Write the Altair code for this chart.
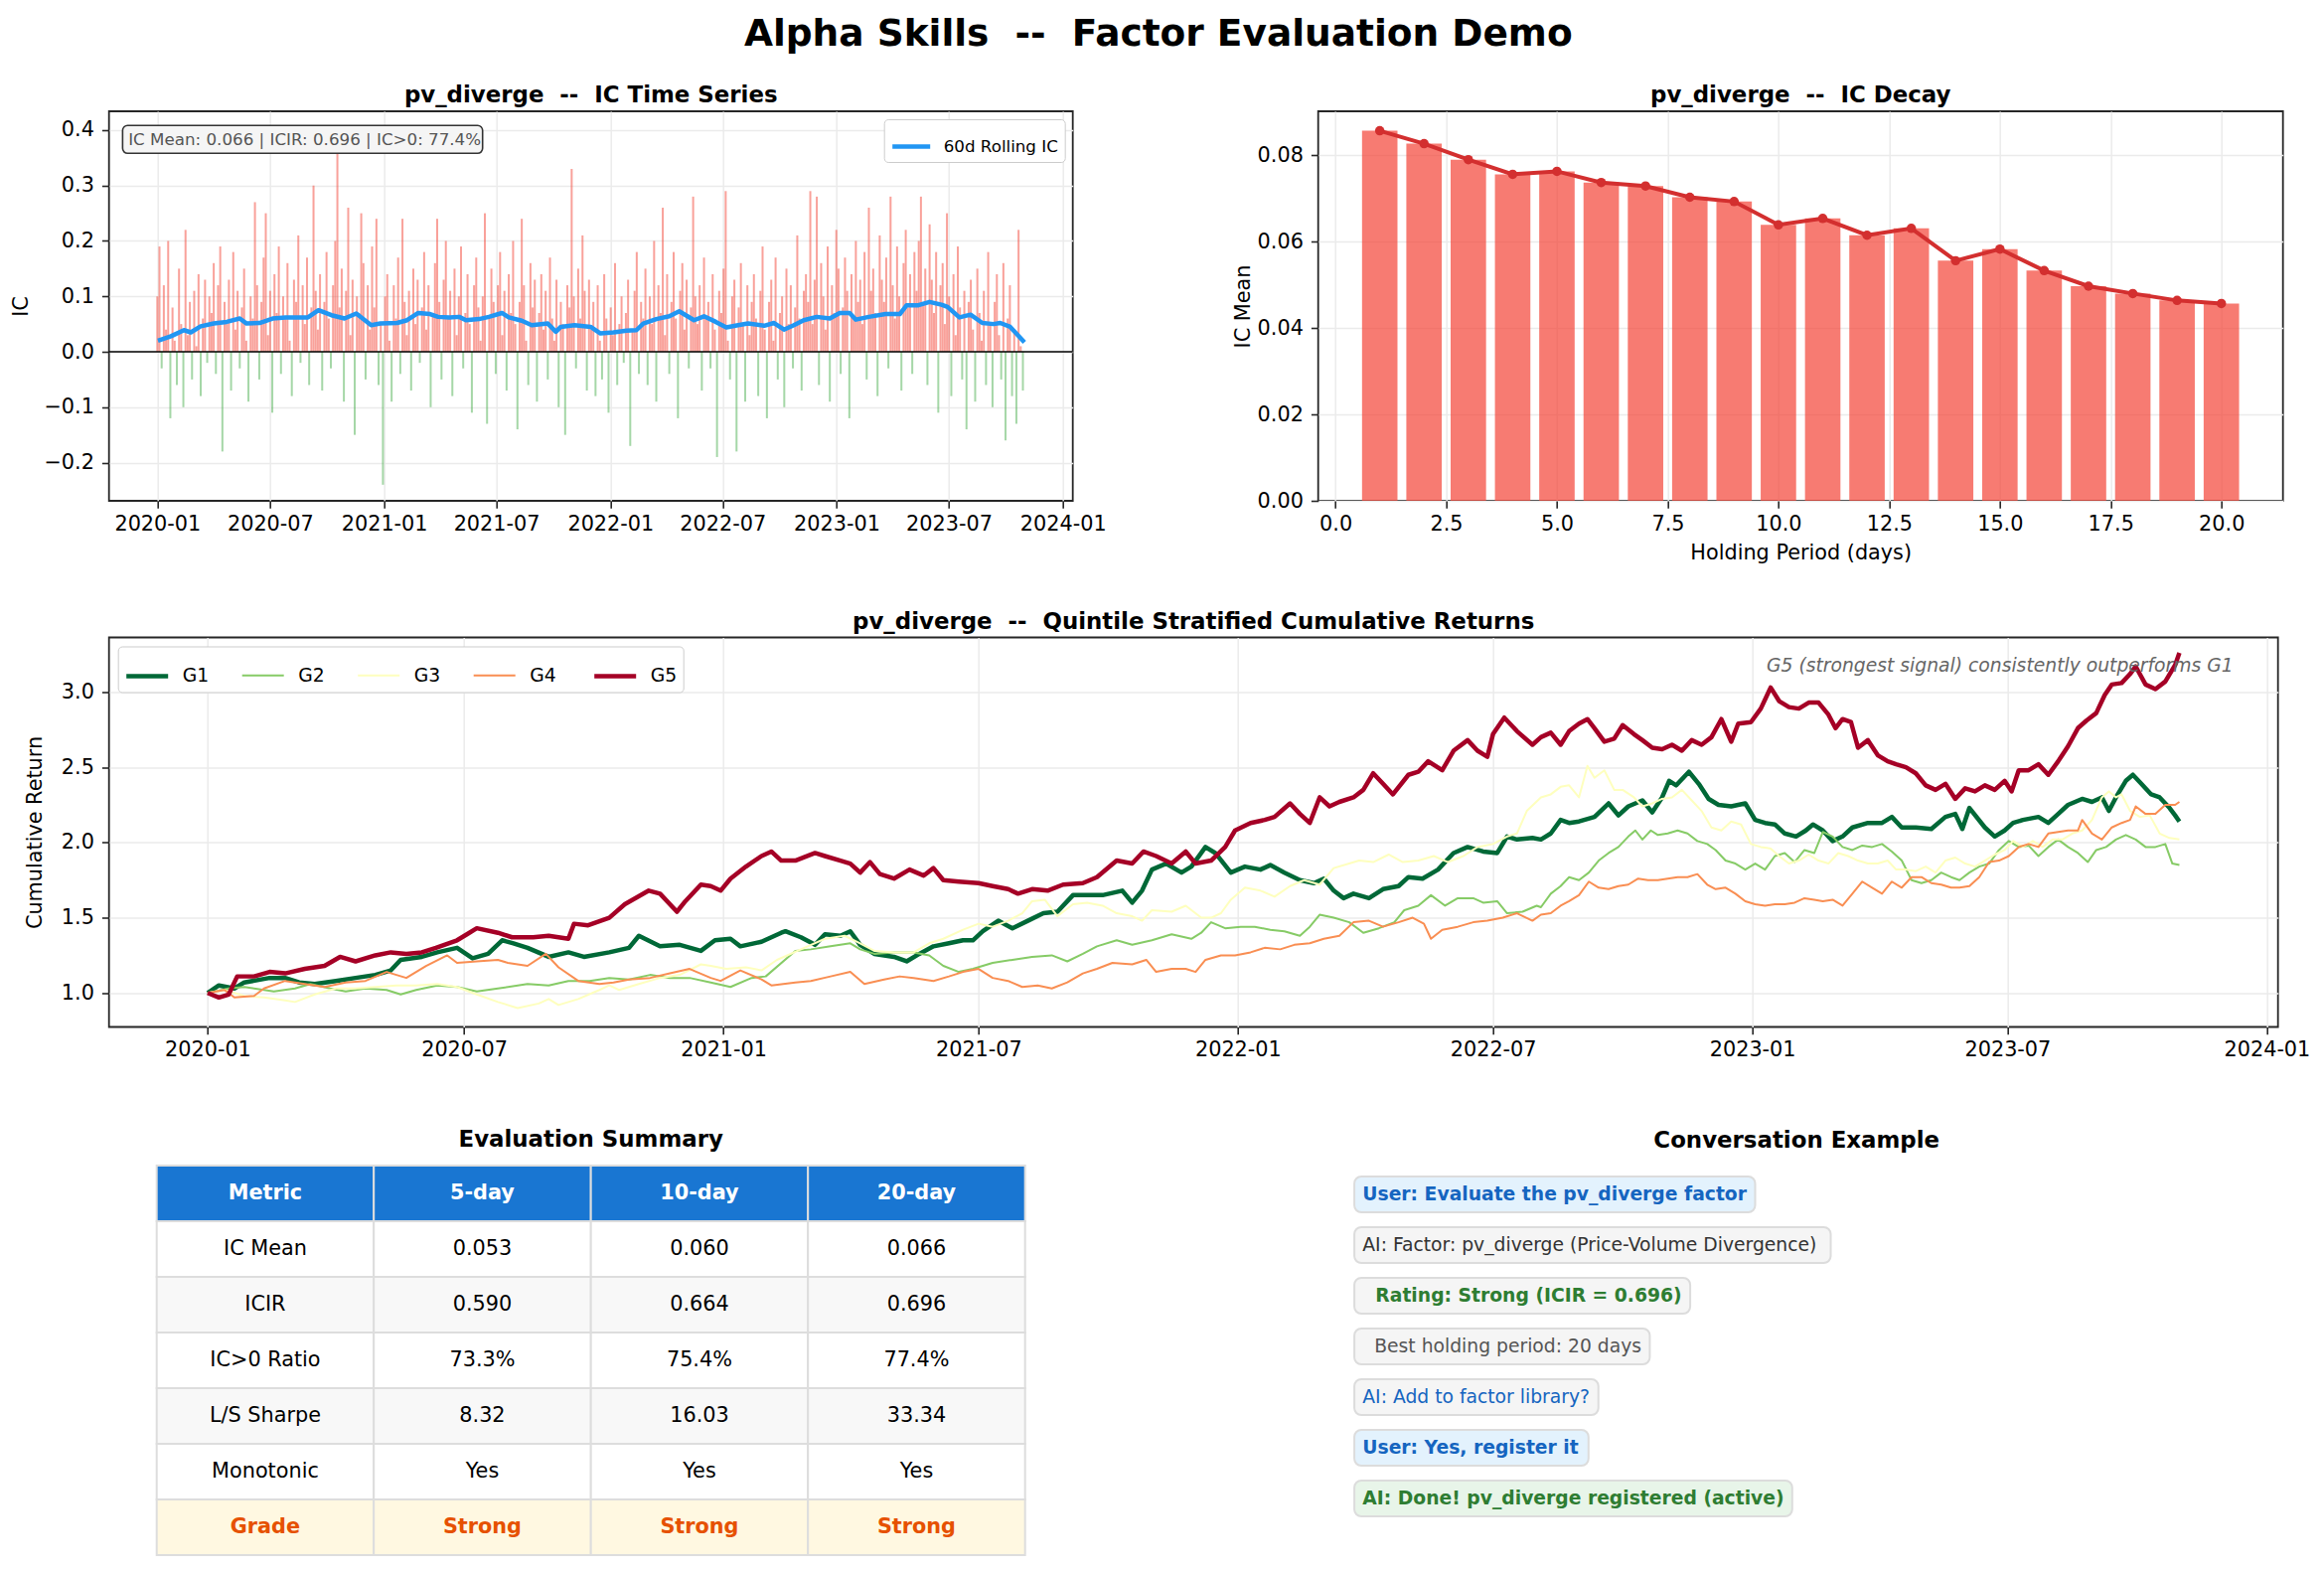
import altair as alt
import pandas as pd

FONT = "DejaVu Sans"
INK = "#262626"
GRID = "#ebebeb"
START = pd.Timestamp("2020-01-01")

# ---------------- daily IC (one value every 3.5 calendar days) ----------------
IC_STEP_DAYS = 3.5
DAILY_IC = [
    0.10, 0.19, -0.03, 0.12, 0.04, 0.20, -0.12, 0.08, 0.02, -0.06, 0.15, 0.05, -0.10, 0.22, 0.03, 0.09, -0.05, 0.11, 0.01, 0.14, -0.08, 0.06, 0.13, -0.02, 0.10,
    0.07, 0.16, -0.04, 0.12, 0.19, -0.18, 0.09, 0.05, 0.13, -0.07, 0.18, 0.04, 0.11, -0.03, 0.08, 0.15, 0.02, -0.09, 0.10, 0.06, 0.27, 0.12, -0.05, 0.09, 0.17,
    0.25, 0.03, 0.11, -0.11, 0.14, 0.07, 0.19, -0.04, 0.10, 0.06, 0.16, 0.02, -0.08, 0.13, 0.09, 0.21, -0.02, 0.12, 0.05, 0.17, -0.06, 0.08, 0.30, 0.11, 0.04,
    0.14, -0.07, 0.09, 0.18, 0.06, -0.03, 0.12, 0.20, 0.36, 0.08, 0.15, -0.09, 0.11, 0.26, 0.03, 0.13, -0.15, 0.10, 0.07, 0.25, 0.16, -0.05, 0.12, 0.04, 0.19,
    0.08, 0.24, -0.06, 0.05, -0.24, 0.10, 0.14, 0.02, -0.09, 0.12, 0.06, 0.17, -0.04, 0.24, 0.09, 0.03, 0.11, -0.07, 0.15, 0.05, 0.13, -0.02, 0.08, 0.18, 0.04,
    0.12, -0.10, 0.07, 0.16, 0.24, 0.09, -0.05, 0.13, 0.20, 0.06, 0.11, -0.08, 0.15, 0.03, 0.10, 0.19, -0.03, 0.07, 0.14, 0.05, -0.11, 0.12, 0.17, 0.08, 0.02,
    0.10, 0.25, -0.13, 0.06, 0.15, 0.09, -0.04, 0.12, 0.18, 0.03, 0.11, -0.07, 0.14, 0.07, 0.20, 0.05, -0.14, 0.09, 0.24, 0.12, 0.02, -0.06, 0.16, 0.08, 0.13,
    -0.09, 0.07, 0.14, 0.04, 0.11, -0.05, 0.17, 0.06, 0.02, 0.13, -0.10, 0.09, 0.05, -0.15, 0.12, 0.08, 0.33, 0.10, -0.03, 0.15, 0.06, 0.21, 0.11, -0.07, 0.13,
    0.04, 0.09, -0.08, 0.12, 0.02, -0.05, 0.14, 0.06, -0.11, 0.08, 0.03, 0.16, -0.06, 0.05, 0.10, -0.02, 0.07, 0.13, -0.17, 0.04, 0.11, 0.18, -0.04, 0.09, 0.06,
    0.15, -0.06, 0.10, 0.05, 0.20, -0.09, 0.12, 0.07, 0.26, 0.03, 0.14, -0.04, 0.09, 0.18, 0.06, -0.12, 0.11, 0.16, 0.04, 0.13, -0.03, 0.08, 0.28, 0.10, 0.05,
    0.12, -0.07, 0.17, 0.06, 0.09, -0.03, 0.14, 0.04, -0.19, 0.11, 0.07, 0.15, 0.29, 0.02, -0.05, 0.10, 0.13, -0.18, 0.08, 0.16, 0.05, -0.09, 0.12, 0.03, 0.09,
    0.14, 0.06, -0.08, 0.11, 0.19, 0.04, -0.12, 0.09, 0.13, 0.02, 0.17, -0.05, 0.07, 0.10, -0.10, 0.15, 0.05, 0.12, -0.03, 0.08, 0.21, 0.06, -0.07, 0.11, 0.14,
    0.09, 0.29, 0.05, 0.13, 0.28, -0.06, 0.16, 0.10, 0.04, 0.19, -0.09, 0.12, 0.07, 0.22, 0.15, -0.04, 0.08, 0.17, 0.11, -0.12, 0.14, 0.06, 0.20, 0.09, 0.13,
    0.05, 0.18, -0.05, 0.26, 0.11, 0.15, 0.07, -0.08, 0.21, 0.13, 0.09, 0.17, -0.03, 0.28, 0.12, 0.06, 0.19, 0.10, -0.07, 0.16, 0.22, 0.08, 0.14, -0.04, 0.18,
    0.11, 0.20, 0.28, 0.09, 0.15, -0.06, 0.23, 0.13, 0.07, 0.18, -0.11, 0.12, 0.16, 0.05, 0.25, 0.10, -0.08, 0.14, 0.03, 0.19, 0.08, -0.05, 0.11, -0.14, 0.09,
    0.13, 0.04, -0.09, 0.15, 0.07, 0.02, 0.11, -0.06, 0.18, 0.05, -0.10, 0.09, 0.14, 0.03, -0.05, 0.16, -0.16, 0.06, 0.12, -0.08, 0.04, -0.13, 0.22, 0.01, -0.07,
]

# 60-day rolling IC (days since 2020-01-01, value)
ROLL_DAYS = [1, 22, 43, 54, 70, 91, 112, 133, 144, 165, 186, 207, 228, 243, 260, 281, 302, 321, 345, 360,
             387, 403, 421, 440, 453, 471, 487, 498, 519, 535, 556, 567, 588, 604, 630, 643, 651, 673, 699, 715,
             736, 757, 773, 784, 805, 826, 842, 866, 882, 901, 918, 937, 953, 979, 995, 1011, 1027, 1043, 1064, 1085,
             1101, 1117, 1127, 1148, 1175, 1198, 1209, 1228, 1246, 1265, 1275, 1294, 1312, 1331, 1349, 1360, 1376, 1399]
ROLL_IC = [0.020, 0.028, 0.039, 0.035, 0.046, 0.051, 0.054, 0.060, 0.051, 0.052, 0.060, 0.062, 0.062, 0.062, 0.075, 0.066, 0.060, 0.069, 0.048, 0.051,
           0.052, 0.057, 0.070, 0.068, 0.063, 0.062, 0.063, 0.057, 0.059, 0.063, 0.070, 0.062, 0.056, 0.048, 0.051, 0.036, 0.045, 0.048, 0.045, 0.033,
           0.035, 0.038, 0.039, 0.051, 0.059, 0.064, 0.073, 0.057, 0.064, 0.054, 0.044, 0.048, 0.051, 0.047, 0.052, 0.040, 0.048, 0.057, 0.063, 0.060,
           0.070, 0.070, 0.058, 0.063, 0.068, 0.068, 0.084, 0.084, 0.090, 0.085, 0.081, 0.062, 0.067, 0.052, 0.050, 0.052, 0.045, 0.017]

# ---------------- IC decay ----------------
HOLDING_DAYS = list(range(1, 21))
DECAY_IC = [0.0857, 0.0827, 0.0790, 0.0756, 0.0763, 0.0737, 0.0729, 0.0703, 0.0693, 0.0639,
            0.0654, 0.0615, 0.0631, 0.0556, 0.0583, 0.0533, 0.0497, 0.0480, 0.0464, 0.0457]

# ---------------- quintile cumulative returns ----------------
GROUPS = ["G1", "G2", "G3", "G4", "G5"]
GROUP_COLORS = ["#006837", "#86cb66", "#feffbe", "#f98e52", "#a50026"]
GROUP_WIDTHS = [4.5, 2.0, 2.0, 2.0, 4.5]

G1_DAYS = [0, 8, 19, 26, 44, 55, 65, 76, 91, 105, 119, 130, 137, 152, 163, 177, 188, 199, 209, 217,
           227, 242, 256, 267, 285, 299, 306, 321, 335, 350, 360, 371, 378, 393, 407, 410, 421, 431, 438, 449,
           456, 463, 473, 487, 496, 505, 515, 526, 536, 543, 550, 561, 571, 582, 593, 603, 614, 624, 635, 649,
           656, 663, 670, 680, 691, 698, 708, 715, 726, 736, 747, 754, 764, 775, 785, 792, 799, 806, 813, 824,
           834, 845, 852, 862, 873, 884, 894, 905, 915, 922, 929, 940, 946, 953, 960, 966, 973, 984, 994, 1001,
           1008, 1018, 1025, 1032, 1037, 1042, 1051, 1058, 1065, 1072, 1081, 1091, 1098, 1105, 1112, 1119, 1127, 1134, 1139, 1146,
           1153, 1160, 1167, 1178, 1188, 1195, 1202, 1212, 1223, 1233, 1240, 1245, 1250, 1261, 1268, 1275, 1281, 1288, 1299, 1306,
           1313, 1320, 1330, 1337, 1344, 1349, 1354, 1361, 1366, 1371, 1379, 1385, 1392, 1396, 1399]
G1_RET = [1.00, 1.05, 1.03, 1.07, 1.10, 1.10, 1.07, 1.06, 1.08, 1.10, 1.12, 1.15, 1.22, 1.24, 1.27, 1.30, 1.23, 1.26, 1.35, 1.33,
          1.30, 1.24, 1.27, 1.24, 1.27, 1.30, 1.38, 1.31, 1.32, 1.28, 1.35, 1.36, 1.31, 1.34, 1.40, 1.41, 1.37, 1.32, 1.39, 1.38,
          1.41, 1.32, 1.26, 1.24, 1.21, 1.26, 1.31, 1.33, 1.35, 1.35, 1.41, 1.48, 1.43, 1.48, 1.53, 1.54, 1.65, 1.65, 1.65, 1.68,
          1.60, 1.68, 1.82, 1.86, 1.80, 1.84, 1.97, 1.93, 1.80, 1.84, 1.82, 1.85, 1.80, 1.75, 1.73, 1.76, 1.68, 1.63, 1.66, 1.63,
          1.69, 1.71, 1.77, 1.76, 1.82, 1.93, 1.97, 1.94, 1.93, 2.04, 2.02, 2.03, 2.02, 2.06, 2.15, 2.13, 2.14, 2.17, 2.26, 2.18,
          2.24, 2.28, 2.20, 2.30, 2.41, 2.38, 2.47, 2.39, 2.29, 2.25, 2.24, 2.26, 2.15, 2.13, 2.12, 2.06, 2.04, 2.08, 2.12, 2.08,
          2.01, 2.04, 2.10, 2.13, 2.13, 2.17, 2.10, 2.10, 2.09, 2.17, 2.19, 2.09, 2.23, 2.10, 2.04, 2.08, 2.13, 2.15, 2.17, 2.13,
          2.19, 2.25, 2.29, 2.27, 2.30, 2.21, 2.30, 2.41, 2.45, 2.40, 2.32, 2.30, 2.23, 2.18, 2.14]

G2_DAYS = [0, 15, 26, 47, 62, 73, 87, 98, 112, 127, 137, 148, 163, 177, 191, 206, 227, 242, 256, 271,
           285, 299, 314, 328, 342, 357, 371, 386, 396, 417, 428, 442, 456, 463, 473, 487, 501, 512, 522, 533,
           543, 557, 571, 585, 599, 610, 621, 631, 645, 656, 670, 684, 698, 705, 712, 722, 733, 743, 754, 764,
           775, 782, 789, 799, 810, 820, 831, 842, 849, 859, 868, 878, 887, 898, 905, 915, 922, 933, 943, 946,
           953, 960, 966, 973, 980, 987, 994, 1001, 1008, 1013, 1018, 1024, 1029, 1036, 1043, 1050, 1057, 1064, 1070, 1077,
           1084, 1091, 1098, 1105, 1112, 1119, 1126, 1133, 1140, 1146, 1153, 1160, 1167, 1174, 1181, 1188, 1195, 1202, 1209, 1216,
           1223, 1230, 1237, 1243, 1250, 1257, 1264, 1271, 1278, 1285, 1292, 1299, 1306, 1313, 1320, 1327, 1334, 1340, 1347, 1354,
           1361, 1368, 1375, 1382, 1389, 1394, 1399]
G2_RET = [1.00, 1.03, 1.04, 1.01, 1.03, 1.06, 1.03, 1.01, 1.03, 1.02, 0.99, 1.02, 1.05, 1.04, 1.01, 1.03, 1.06, 1.05, 1.08, 1.08,
          1.10, 1.09, 1.12, 1.10, 1.10, 1.07, 1.04, 1.10, 1.11, 1.28, 1.29, 1.31, 1.33, 1.29, 1.26, 1.27, 1.27, 1.25, 1.18, 1.14,
          1.16, 1.20, 1.22, 1.24, 1.25, 1.21, 1.26, 1.31, 1.35, 1.32, 1.35, 1.39, 1.36, 1.40, 1.47, 1.43, 1.44, 1.44, 1.42, 1.41,
          1.38, 1.44, 1.52, 1.50, 1.47, 1.40, 1.43, 1.47, 1.55, 1.58, 1.65, 1.58, 1.63, 1.63, 1.60, 1.61, 1.53, 1.54, 1.58, 1.57,
          1.66, 1.71, 1.77, 1.75, 1.80, 1.88, 1.93, 1.97, 2.04, 2.08, 2.02, 2.08, 2.05, 2.06, 2.08, 2.06, 2.01, 1.99, 1.95, 1.88,
          1.86, 1.82, 1.86, 1.82, 1.91, 1.93, 1.87, 1.95, 1.93, 2.07, 2.04, 1.97, 1.95, 1.98, 1.97, 1.99, 1.94, 1.88, 1.75, 1.73,
          1.75, 1.80, 1.77, 1.75, 1.80, 1.84, 1.86, 1.95, 2.01, 1.97, 1.98, 1.91, 1.97, 2.02, 1.97, 1.93, 1.87, 1.95, 1.97, 2.02,
          2.05, 2.02, 1.97, 1.97, 1.99, 1.86, 1.85]

G3_DAYS = [0, 12, 26, 40, 55, 62, 76, 91, 105, 119, 134, 148, 163, 177, 191, 206, 220, 235, 242, 249,
           263, 278, 285, 292, 306, 321, 335, 350, 357, 368, 382, 393, 404, 421, 438, 452, 463, 473, 487, 501,
           512, 522, 536, 547, 557, 568, 578, 585, 594, 603, 614, 624, 635, 645, 656, 663, 670, 684, 694, 705,
           712, 719, 726, 736, 747, 757, 768, 778, 789, 799, 810, 817, 827, 838, 848, 859, 870, 880, 891, 901,
           912, 922, 929, 936, 946, 953, 960, 966, 973, 979, 984, 991, 998, 1004, 1012, 1018, 1025, 1032, 1039, 1046,
           1053, 1060, 1067, 1074, 1081, 1088, 1095, 1102, 1109, 1115, 1122, 1129, 1136, 1143, 1150, 1157, 1164, 1171, 1178, 1185,
           1192, 1198, 1205, 1212, 1219, 1226, 1233, 1240, 1247, 1254, 1261, 1268, 1275, 1281, 1288, 1295, 1302, 1309, 1316, 1323,
           1330, 1337, 1344, 1349, 1354, 1358, 1364, 1371, 1378, 1385, 1392, 1399]
G3_RET = [1.00, 1.02, 0.98, 0.97, 0.95, 0.94, 0.99, 1.03, 1.03, 1.04, 1.05, 1.05, 1.06, 1.04, 0.99, 0.94, 0.90, 0.93, 0.96, 0.92,
          0.96, 1.02, 1.05, 1.02, 1.06, 1.10, 1.12, 1.19, 1.18, 1.16, 1.17, 1.15, 1.22, 1.29, 1.36, 1.38, 1.33, 1.28, 1.27, 1.27,
          1.33, 1.36, 1.42, 1.46, 1.44, 1.48, 1.53, 1.61, 1.62, 1.51, 1.59, 1.60, 1.58, 1.53, 1.51, 1.48, 1.55, 1.54, 1.58, 1.50,
          1.50, 1.53, 1.62, 1.70, 1.68, 1.64, 1.71, 1.75, 1.72, 1.83, 1.86, 1.88, 1.87, 1.92, 1.87, 1.88, 1.91, 1.87, 1.91, 1.97,
          1.99, 2.04, 2.06, 2.21, 2.30, 2.32, 2.37, 2.38, 2.30, 2.51, 2.43, 2.48, 2.35, 2.35, 2.30, 2.24, 2.26, 2.29, 2.30, 2.35,
          2.28, 2.21, 2.10, 2.08, 2.14, 2.12, 1.99, 1.97, 1.96, 1.91, 1.86, 1.88, 1.92, 1.88, 1.86, 1.93, 1.91, 1.88, 1.86, 1.86,
          1.88, 1.82, 1.82, 1.81, 1.84, 1.80, 1.88, 1.90, 1.86, 1.84, 1.88, 1.92, 1.95, 2.01, 1.97, 2.01, 1.97, 2.02, 2.02, 2.06,
          2.08, 2.15, 2.30, 2.34, 2.30, 2.32, 2.21, 2.17, 2.18, 2.06, 2.03, 2.02]

G4_DAYS = [0, 12, 19, 33, 40, 55, 69, 83, 98, 112, 127, 141, 155, 170, 177, 191, 206, 213, 227, 240,
           249, 263, 278, 288, 299, 314, 328, 342, 357, 364, 378, 393, 400, 417, 428, 442, 456, 466, 480, 491,
           501, 515, 526, 536, 547, 557, 568, 578, 589, 599, 610, 621, 631, 642, 656, 666, 673, 684, 694, 701,
           708, 719, 729, 740, 750, 761, 771, 782, 792, 803, 813, 824, 834, 845, 855, 863, 868, 876, 887, 898,
           908, 919, 929, 940, 946, 953, 960, 966, 973, 980, 987, 994, 1001, 1008, 1015, 1022, 1029, 1036, 1043, 1050,
           1057, 1064, 1070, 1077, 1084, 1091, 1098, 1105, 1112, 1119, 1126, 1133, 1140, 1146, 1153, 1160, 1167, 1174, 1181, 1188,
           1195, 1202, 1209, 1216, 1223, 1230, 1237, 1243, 1250, 1257, 1264, 1271, 1278, 1285, 1292, 1299, 1306, 1313, 1320, 1327,
           1330, 1337, 1344, 1351, 1358, 1364, 1368, 1375, 1382, 1389, 1396, 1399]
G4_RET = [1.00, 1.02, 0.97, 0.98, 1.03, 1.08, 1.06, 1.04, 1.07, 1.08, 1.14, 1.10, 1.18, 1.25, 1.20, 1.21, 1.22, 1.20, 1.18, 1.26,
          1.17, 1.08, 1.06, 1.07, 1.09, 1.10, 1.13, 1.16, 1.10, 1.08, 1.15, 1.09, 1.05, 1.07, 1.08, 1.11, 1.14, 1.06, 1.09, 1.11,
          1.10, 1.08, 1.11, 1.14, 1.16, 1.10, 1.08, 1.04, 1.05, 1.03, 1.07, 1.13, 1.16, 1.20, 1.19, 1.22, 1.14, 1.16, 1.16, 1.14,
          1.22, 1.25, 1.25, 1.27, 1.30, 1.29, 1.32, 1.33, 1.36, 1.38, 1.47, 1.48, 1.44, 1.47, 1.50, 1.46, 1.36, 1.42, 1.44, 1.47,
          1.48, 1.50, 1.53, 1.48, 1.52, 1.53, 1.58, 1.61, 1.65, 1.74, 1.70, 1.69, 1.71, 1.72, 1.76, 1.75, 1.75, 1.76, 1.77, 1.77,
          1.79, 1.72, 1.69, 1.70, 1.66, 1.61, 1.59, 1.58, 1.59, 1.59, 1.60, 1.63, 1.62, 1.61, 1.62, 1.58, 1.66, 1.74, 1.70, 1.66,
          1.74, 1.70, 1.77, 1.77, 1.73, 1.72, 1.70, 1.70, 1.71, 1.77, 1.87, 1.88, 1.91, 1.97, 1.99, 1.97, 2.06, 2.07, 2.08, 2.08,
          2.15, 2.06, 2.02, 2.10, 2.13, 2.15, 2.24, 2.19, 2.19, 2.25, 2.25, 2.27]

G5_DAYS = [0, 8, 15, 21, 33, 44, 55, 69, 83, 94, 105, 119, 130, 141, 152, 162, 177, 184, 191, 206,
           216, 231, 242, 256, 260, 270, 285, 296, 313, 321, 333, 339, 350, 357, 364, 371, 382, 393, 400, 407,
           417, 431, 438, 449, 456, 463, 470, 477, 487, 498, 508, 515, 522, 533, 547, 557, 568, 575, 585, 596,
           607, 621, 631, 645, 656, 664, 673, 684, 694, 701, 712, 722, 729, 740, 750, 757, 768, 775, 782, 789,
           796, 803, 813, 820, 827, 834, 841, 852, 859, 866, 876, 884, 894, 901, 908, 912, 920, 929, 940, 946,
           953, 960, 966, 973, 979, 984, 991, 998, 1004, 1012, 1018, 1025, 1032, 1039, 1046, 1053, 1060, 1067, 1074, 1081,
           1086, 1095, 1102, 1109, 1115, 1122, 1129, 1136, 1143, 1150, 1155, 1160, 1166, 1171, 1178, 1185, 1192, 1198, 1205, 1212,
           1219, 1226, 1233, 1240, 1247, 1254, 1261, 1268, 1275, 1280, 1285, 1292, 1299, 1306, 1313, 1320, 1327, 1333, 1340, 1346,
           1351, 1358, 1364, 1368, 1375, 1382, 1389, 1396, 1399]
G5_RET = [1.00, 0.97, 0.99, 1.11, 1.11, 1.14, 1.13, 1.16, 1.18, 1.24, 1.21, 1.25, 1.27, 1.26, 1.27, 1.30, 1.35, 1.39, 1.43, 1.40,
          1.37, 1.37, 1.38, 1.36, 1.46, 1.45, 1.50, 1.59, 1.68, 1.66, 1.54, 1.61, 1.72, 1.71, 1.68, 1.76, 1.84, 1.91, 1.94, 1.88,
          1.88, 1.93, 1.91, 1.88, 1.86, 1.80, 1.87, 1.79, 1.76, 1.82, 1.78, 1.83, 1.75, 1.74, 1.73, 1.71, 1.69, 1.66, 1.69, 1.68,
          1.72, 1.73, 1.77, 1.88, 1.86, 1.94, 1.91, 1.86, 1.94, 1.86, 1.88, 1.97, 2.08, 2.13, 2.15, 2.17, 2.26, 2.19, 2.13, 2.30,
          2.24, 2.27, 2.30, 2.35, 2.46, 2.39, 2.32, 2.45, 2.47, 2.54, 2.48, 2.61, 2.68, 2.61, 2.57, 2.72, 2.83, 2.74, 2.65, 2.70,
          2.73, 2.65, 2.74, 2.79, 2.82, 2.76, 2.67, 2.69, 2.78, 2.72, 2.68, 2.63, 2.62, 2.65, 2.61, 2.68, 2.65, 2.70, 2.82, 2.67,
          2.79, 2.80, 2.89, 3.03, 2.94, 2.90, 2.89, 2.93, 2.93, 2.85, 2.76, 2.82, 2.80, 2.63, 2.68, 2.58, 2.54, 2.52, 2.50, 2.46,
          2.38, 2.35, 2.39, 2.29, 2.36, 2.34, 2.38, 2.35, 2.41, 2.34, 2.48, 2.48, 2.52, 2.45, 2.54, 2.64, 2.76, 2.81, 2.86, 2.98,
          3.05, 3.06, 3.12, 3.17, 3.05, 3.02, 3.07, 3.18, 3.26]

# ---------------- evaluation summary ----------------
TABLE_HEADER = ["Metric", "5-day", "10-day", "20-day"]
IC_MEAN = [0.053, 0.060, 0.066]
ICIR = [0.590, 0.664, 0.696]
IC_POS_RATIO = [73.3, 75.4, 77.4]
LS_SHARPE = [8.32, 16.03, 33.34]
MONOTONIC = ["Yes", "Yes", "Yes"]
GRADE = ["Strong", "Strong", "Strong"]

# ---------------- conversation ----------------
CHAT_LINES = [
    "User: Evaluate the pv_diverge factor",
    "AI: Factor: pv_diverge (Price-Volume Divergence)",
    "Rating: Strong (ICIR = 0.696)",
    "Best holding period: 20 days",
    "AI: Add to factor library?",
    "User: Yes, register it",
    "AI: Done! pv_diverge registered (active)",
]
CHAT_INDENT = [0, 0, 2, 2, 0, 0, 0]  # leading spaces
CHAT_KIND = ["user", "ai", "rating", "detail", "ask", "user", "done"]

NB = "\u00a0"
MINUS = "\u2212"

# layout constants
PANEL_TITLE_OFFSET = -14
LOWER_TITLE_OFFSET = -4.5

# ======================= helpers =======================
def to_ms(days):
    return [int((START + pd.Timedelta(days=float(d))).value // 1_000_000) for d in days]


SPAN_DAYS = 1399  # 2020-01-01 .. 2023-10-31
MARGIN_DAYS = 0.05 * SPAN_DAYS
X_DOMAIN = to_ms([-MARGIN_DAYS, SPAN_DAYS + MARGIN_DAYS])
TICK_MS = [int(pd.Timestamp(f"{y}-{m:02d}-01").value // 1_000_000)
           for y in range(2020, 2025) for m in (1, 7)][:-1]


def time_x():
    return alt.X(
        "t:T",
        scale=alt.Scale(type="utc", domain=X_DOMAIN, nice=False),
        axis=alt.Axis(values=TICK_MS, labelExpr="utcFormat(datum.value, '%Y-%m')", title=None,
                      labelFlush=False, labelOverlap=False, labelPadding=6),
    )


def panel_title(text, offset=PANEL_TITLE_OFFSET):
    return alt.TitleParams(text=text, fontSize=22.9, fontWeight="bold", font=FONT,
                           anchor="middle", offset=offset, baseline="alphabetic", color="black")


# ======================= IC time series =======================
ic_df = pd.DataFrame({"t": to_ms([i * IC_STEP_DAYS for i in range(len(DAILY_IC))]), "ic": DAILY_IC})
ic_df["zero"] = 0.0
roll_df = pd.DataFrame({"t": to_ms(ROLL_DAYS), "ic": ROLL_IC})
roll_df["roll"] = "60d Rolling IC"


def ic_y():
    return alt.Y(
        "ic:Q",
        scale=alt.Scale(domain=[-0.269, 0.434], nice=False, zero=False),
        axis=alt.Axis(values=[-0.2, -0.1, 0.0, 0.1, 0.2, 0.3, 0.4],
                      labelExpr="replace(format(datum.value, '.1f'), '-', '" + MINUS + "')",
                      title="IC", titlePadding=18, minExtent=60, maxExtent=60),
    )


pos_bars = alt.Chart(ic_df[ic_df.ic >= 0]).mark_bar(size=2.0, color="#f44336", opacity=0.5).encode(
    x=time_x(), y=ic_y(), y2="zero:Q")
neg_bars = alt.Chart(ic_df[ic_df.ic < 0]).mark_bar(size=2.0, color="#4caf50", opacity=0.5).encode(
    x=time_x(), y=ic_y(), y2="zero:Q")
zero_rule = alt.Chart(pd.DataFrame({"y": [0.0]})).mark_rule(color="black", strokeWidth=1.3).encode(y="y:Q")
roll_line = alt.Chart(roll_df).mark_line(strokeWidth=4.5, strokeJoin="round").encode(
    x=time_x(), y=ic_y(),
    color=alt.Color("roll:N", scale=alt.Scale(domain=["60d Rolling IC"], range=["#2196F3"]),
                    legend=alt.Legend(title=None, orient="top-right", offset=8, padding=6,
                                      fillColor="white", strokeColor="#cccccc", cornerRadius=4,
                                      symbolType="stroke", symbolSize=1444, symbolStrokeWidth=4.5,
                                      labelFontSize=16.7, labelOffset=11, labelColor="black")),
)

stats_text = f"IC Mean: {IC_MEAN[2]:.3f} | ICIR: {ICIR[2]:.3f} | IC>0: {IC_POS_RATIO[2]:.1f}%"
note_df = pd.DataFrame({"label": [stats_text]})
note_box = alt.Chart(note_df).mark_rect(fill="#f5f5f5", stroke="#333333", strokeWidth=1.6, cornerRadius=5).encode(
    x=alt.value(13.7), x2=alt.value(376), y=alt.value(14.3), y2=alt.value(42.3))
note_text = alt.Chart(note_df).mark_text(align="left", baseline="middle", fontSize=16.7, color="#555555").encode(
    x=alt.value(19.5), y=alt.value(28.5), text="label:N")

ic_ts = alt.layer(pos_bars, neg_bars, zero_rule, roll_line, note_box, note_text).properties(
    width=970, height=392, title=panel_title("pv_diverge" + NB + " --" + NB + " IC Time Series"))

# ======================= IC decay =======================
decay_df = pd.DataFrame({"h": HOLDING_DAYS, "ic": DECAY_IC})
decay_df["zero"] = 0.0
hx_scale = alt.Scale(domain=[-0.39, 21.39], nice=False, zero=False)
dy_scale = alt.Scale(domain=[0, 0.0902], nice=False, zero=False)
hx_axis = alt.Axis(values=[0, 2.5, 5, 7.5, 10, 12.5, 15, 17.5, 20], format=".1f",
                   title="Holding Period (days)", titlePadding=9, labelFlush=False, labelPadding=6)
dy_axis = alt.Axis(values=[0, 0.02, 0.04, 0.06, 0.08], format=".2f", title="IC Mean",
                   titlePadding=5, minExtent=60, maxExtent=60)
decay_bars = alt.Chart(decay_df).transform_calculate(lo="datum.h - 0.4", hi="datum.h + 0.4").mark_rect(
    color="#f44336", opacity=0.7).encode(
    x=alt.X("lo:Q", scale=hx_scale, axis=hx_axis),
    x2="hi:Q",
    y=alt.Y("ic:Q", scale=dy_scale, axis=dy_axis),
    y2="zero:Q",
)
decay_line = alt.Chart(decay_df).mark_line(
    color="#d32f2f", strokeWidth=4,
    point=alt.OverlayMarkDef(color="#d32f2f", size=90, filled=True, opacity=1)).encode(
    x=alt.X("h:Q", scale=hx_scale, axis=hx_axis), y=alt.Y("ic:Q", scale=dy_scale, axis=dy_axis))
ic_decay = alt.layer(decay_bars, decay_line).properties(
    width=971, height=392, title=panel_title("pv_diverge" + NB + " --" + NB + " IC Decay"))

# ======================= quintile returns =======================
series_frames = []
for name, days, vals in [("G1", G1_DAYS, G1_RET), ("G2", G2_DAYS, G2_RET), ("G3", G3_DAYS, G3_RET),
                         ("G4", G4_DAYS, G4_RET), ("G5", G5_DAYS, G5_RET)]:
    f = pd.DataFrame({"day": days, "ret": vals})
    f["t"] = to_ms(f["day"])
    f["group"] = name
    series_frames.append(f)
ret_df = pd.concat(series_frames, ignore_index=True)

group_legend = alt.Legend(title=None, orient="top-left", offset=9, direction="horizontal", columns=5,
                          padding=6, fillColor="white", strokeColor="#cccccc", cornerRadius=4,
                          symbolType="stroke", symbolSize=1764, labelFontSize=18.75, labelOffset=12,
                          columnPadding=28.5, labelColor="black")
ret_lines = alt.Chart(ret_df).mark_line(strokeJoin="round").encode(
    x=time_x(),
    y=alt.Y("ret:Q", scale=alt.Scale(domain=[0.774, 3.363], nice=False, zero=False),
            axis=alt.Axis(values=[1.0, 1.5, 2.0, 2.5, 3.0], format=".1f", title="Cumulative Return",
                          titlePadding=4.6, minExtent=60, maxExtent=60)),
    color=alt.Color("group:N", scale=alt.Scale(domain=GROUPS, range=GROUP_COLORS), legend=group_legend),
    strokeWidth=alt.StrokeWidth("group:N", scale=alt.Scale(type="ordinal", domain=GROUPS, range=GROUP_WIDTHS),
                                legend=group_legend),
)
ret_note = alt.Chart(pd.DataFrame({"label": ["G5 (strongest signal) consistently outperforms G1"]})).mark_text(
    align="right", baseline="middle", fontStyle="italic", fontSize=18.75, color="#666666").encode(
    x=alt.value(2138), y=alt.value(28), text="label:N")
quint = alt.layer(ret_lines, ret_note).properties(
    width=2183, height=392,
    title=panel_title("pv_diverge" + NB + " --" + NB + " Quintile Stratified Cumulative Returns"))

# ======================= summary table =======================
TABLE_W = 970
table_rows = [
    TABLE_HEADER,
    ["IC Mean"] + [f"{v:.3f}" for v in IC_MEAN],
    ["ICIR"] + [f"{v:.3f}" for v in ICIR],
    ["IC>0 Ratio"] + [f"{v:.1f}%" for v in IC_POS_RATIO],
    ["L/S Sharpe"] + [f"{v:.2f}" for v in LS_SHARPE],
    ["Monotonic"] + MONOTONIC,
    ["Grade"] + GRADE,
]
cells = []
for r, row in enumerate(table_rows):
    kind = "head" if r == 0 else ("grade" if r == len(table_rows) - 1 else "body")
    if kind == "head":
        fill = "#1976D2"
    elif kind == "grade":
        fill = "#FFF8E1"
    else:
        fill = "#F8F8F8" if r % 2 == 0 else "#FFFFFF"
    for c, txt in enumerate(row):
        cells.append({"r": r, "c": c, "label": txt, "kind": kind, "fill": fill})
cell_df = pd.DataFrame(cells)

col_step = 218.5
col_pad = (TABLE_W / col_step - 4) / 2
col_x = alt.X("c:O", axis=None, scale=alt.Scale(paddingInner=0, paddingOuter=col_pad))
row_y = alt.Y("r:O", axis=None, scale=alt.Scale(paddingInner=0, paddingOuter=0))
cell_rects = alt.Chart(cell_df).mark_rect(stroke="#dddddd", strokeWidth=2).encode(
    x=col_x, y=row_y, fill=alt.Fill("fill:N", scale=None, legend=None))


def cell_text(kind, color, weight):
    return alt.Chart(cell_df).transform_filter(alt.datum.kind == kind).mark_text(
        fontSize=20.8, color=color, fontWeight=weight, baseline="middle", align="center").encode(
        x=col_x, y=row_y, text="label:N")


table = alt.layer(cell_rects, cell_text("head", "white", "bold"), cell_text("body", "black", "normal"),
                  cell_text("grade", "#E65100", "bold")).properties(
    width=TABLE_W, height=392, title=panel_title("Evaluation Summary", offset=LOWER_TITLE_OFFSET),
    view=alt.ViewBackground(strokeOpacity=0))

# ======================= conversation =======================
NORMAL_W = {" ": 0.318, "!": 0.401, "(": 0.390, ")": 0.390, ",": 0.318, "-": 0.361, ".": 0.318,
            ":": 0.337, "=": 0.838, "?": 0.531, "_": 0.500, "A": 0.684, "B": 0.686, "C": 0.698, "D": 0.770,
            "E": 0.632, "F": 0.575, "I": 0.295, "P": 0.603, "R": 0.695, "S": 0.635, "U": 0.732, "V": 0.684,
            "Y": 0.611, "a": 0.613, "b": 0.635, "c": 0.550, "d": 0.635, "e": 0.615, "f": 0.352, "g": 0.635,
            "h": 0.634, "i": 0.278, "l": 0.278, "m": 0.974, "n": 0.634, "o": 0.612, "p": 0.635, "r": 0.411,
            "s": 0.521, "t": 0.392, "u": 0.634, "v": 0.592, "y": 0.592}
BOLD_W = {" ": 0.348, "!": 0.438, "(": 0.457, ")": 0.457, ",": 0.380, "-": 0.415, ".": 0.380,
          ":": 0.400, "=": 0.838, "?": 0.592, "_": 0.500, "A": 0.774, "B": 0.762, "C": 0.734, "D": 0.830,
          "E": 0.683, "F": 0.683, "I": 0.372, "P": 0.733, "R": 0.770, "S": 0.720, "U": 0.812, "V": 0.774,
          "Y": 0.724, "a": 0.675, "b": 0.716, "c": 0.593, "d": 0.716, "e": 0.678, "f": 0.435, "g": 0.716,
          "h": 0.712, "i": 0.343, "l": 0.343, "m": 1.042, "n": 0.712, "o": 0.687, "p": 0.716, "r": 0.493,
          "s": 0.595, "t": 0.478, "u": 0.712, "v": 0.652, "y": 0.652}
for d in "0123456789":
    NORMAL_W[d] = 0.636
    BOLD_W[d] = 0.696

CHAT_FONT = 18.75
CHAT_PAD = 8.2
KIND_STYLE = {
    "user": ("#1565C0", True, "#E3F2FD"),
    "ai": ("#333333", False, "#F5F5F5"),
    "rating": ("#2E7D32", True, "#F5F5F5"),
    "detail": ("#555555", False, "#F5F5F5"),
    "ask": ("#1565C0", False, "#F5F5F5"),
    "done": ("#2E7D32", True, "#E8F5E9"),
}


def text_px(s, bold):
    widths = BOLD_W if bold else NORMAL_W
    return sum(widths.get(ch, 0.6) for ch in s) * CHAT_FONT


chat_rows = []
for i, (line, kind, indent) in enumerate(zip(CHAT_LINES, CHAT_KIND, CHAT_INDENT)):
    color, bold, bg = KIND_STYLE[kind]
    lead = text_px(" " * indent, bold)
    chat_rows.append({"i": i, "label": line, "color": color, "bold": bold, "bg": bg,
                      "tx": CHAT_PAD + lead, "w": lead + text_px(line, bold) + 2 * CHAT_PAD})
chat_df = pd.DataFrame(chat_rows)

chat_x = alt.Scale(domain=[-40.4, 971 - 40.4], nice=False, zero=False)
chat_y = alt.Scale(domain=[-0.569, 7.118], nice=False, zero=False, reverse=True)
bubbles = alt.Chart(chat_df).transform_calculate(
    x0="0", y0="datum.i - 0.353", y1="datum.i + 0.353").mark_rect(
    cornerRadius=7, stroke="#dcdcdc", strokeWidth=2).encode(
    x=alt.X("x0:Q", scale=chat_x, axis=None), x2="w:Q",
    y=alt.Y("y0:Q", scale=chat_y, axis=None), y2="y1:Q",
    fill=alt.Fill("bg:N", scale=None, legend=None))


def chat_text(bold):
    return alt.Chart(chat_df).transform_filter(alt.datum.bold == bold).mark_text(
        align="left", baseline="middle", fontSize=CHAT_FONT,
        fontWeight="bold" if bold else "normal").encode(
        x=alt.X("tx:Q", scale=chat_x, axis=None),
        y=alt.Y("i:Q", scale=chat_y, axis=None),
        text="label:N", color=alt.Color("color:N", scale=None, legend=None))


chat = alt.layer(bubbles, chat_text(True), chat_text(False)).properties(
    width=971, height=392, title=panel_title("Conversation Example", offset=LOWER_TITLE_OFFSET),
    view=alt.ViewBackground(strokeOpacity=0))

# ======================= assemble =======================
top_row = alt.hconcat(ic_ts, ic_decay, spacing=247, bounds="flush").resolve_scale(
    color="independent").resolve_legend(color="independent")
bottom_row = alt.hconcat(table, chat, spacing=243, bounds="flush")
lower = alt.vconcat(quint, bottom_row, spacing=67.5).resolve_scale(
    color="independent", strokeWidth="independent").resolve_legend(
    color="independent", strokeWidth="independent")

chart = alt.vconcat(
    top_row, lower, spacing=46.5,
    title=alt.TitleParams(text="Alpha Skills" + NB + " --" + NB + " Factor Evaluation Demo",
                          fontSize=37.5, fontWeight="bold", font=FONT, anchor="middle",
                          offset=0.6, dx=-2, baseline="alphabetic", color="black"),
    padding={"left": 9.7, "top": 16, "right": 10, "bottom": 4},
    background="white",
).resolve_scale(
    color="independent", strokeWidth="independent"
).resolve_legend(
    color="independent", strokeWidth="independent"
).configure(font=FONT).configure_view(
    stroke=INK, strokeWidth=1.8
).configure_axis(
    labelFont=FONT, titleFont=FONT, labelFontSize=20.8, titleFontSize=20.8, titleFontWeight="normal",
    labelColor="black", titleColor="black", tickColor=INK, tickSize=7.3, tickWidth=1.6,
    domain=False, gridColor=GRID, gridWidth=1.5, labelPadding=8, labelFlush=False,
).configure_legend(labelFont=FONT).configure_text(font=FONT)

chart.save("out.html", embed_options={"renderer": "svg", "actions": False})
